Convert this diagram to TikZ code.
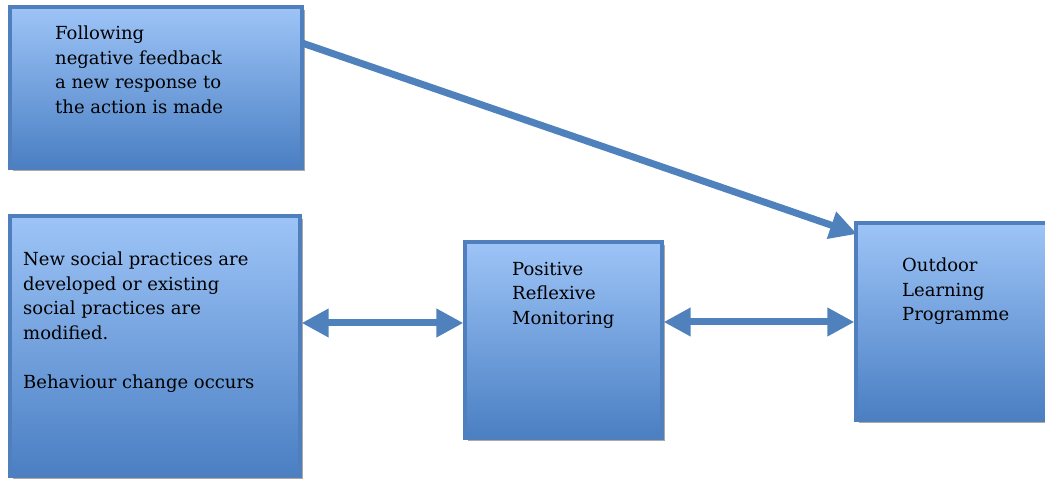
\documentclass[tikz,border=0pt]{standalone}
\usepackage{fontspec}
\setmainfont{DejaVu Serif}
\usetikzlibrary{arrows.meta,shadows}
\definecolor{boxtop}{HTML}{9DC4F7}
\definecolor{boxbot}{HTML}{4A7FC3}
\definecolor{boxline}{HTML}{4F7FBC}
\definecolor{arrowblue}{HTML}{4F81BD}
\tikzset{
  flowbox/.style={rectangle, draw=boxline, line width=3.2pt, top color=boxtop, bottom color=boxbot,
    inner sep=0pt, drop shadow={opacity=0.45, shadow xshift=2.5pt, shadow yshift=-3.5pt, fill=black!75}},
  boxtext/.style={anchor=north west, inner sep=0pt, align=left, text=black,
    font=\fontsize{18}{24.5}\selectfont},
  link/.style={draw=arrowblue, line width=7pt,
    -{Triangle[length=27pt,width=27pt]}},
  duallink/.style={draw=arrowblue, line width=7pt,
    {Triangle[length=27pt,width=27pt]}-{Triangle[length=27pt,width=27pt]}}
}
\begin{document}
\begin{tikzpicture}[x=1pt,y=1pt]
\useasboundingbox (0,0) rectangle (1045,479);
% boxes
\node[flowbox, minimum width=292pt, minimum height=161pt] (fb) at (156,391.5) {};
\node[flowbox, minimum width=290pt, minimum height=260pt] (sp) at (155,133) {};
\node[flowbox, minimum width=197pt, minimum height=196pt] (prm) at (563.5,139) {};
\node[flowbox, minimum width=196pt, minimum height=197pt] (olp) at (954,157.5) {};
% texts
\node[boxtext] (fbt) at (55,453) {Following\\negative feedback\\a new response to\\the action is made};
\node[boxtext] (spt) at (23,227) {New social practices are\\developed or existing\\social practices are\\modified.\\[24.5pt]Behaviour change occurs};
\node[boxtext] (prmt) at (512,217) {Positive\\Reflexive\\Monitoring};
\node[boxtext] (olpt) at (902,221) {Outdoor\\Learning\\Programme};
% connectors
\coordinate (fbout) at (302,436);
\coordinate (olpin) at (857,245);
\draw[link] (fbout) -- (olpin);
\draw[duallink] (sp.east |- 0,156) -- (prm.west |- 0,156);
\draw[duallink] (prm.east |- 0,157) -- (olp.west |- 0,157);
\end{tikzpicture}
\end{document}
